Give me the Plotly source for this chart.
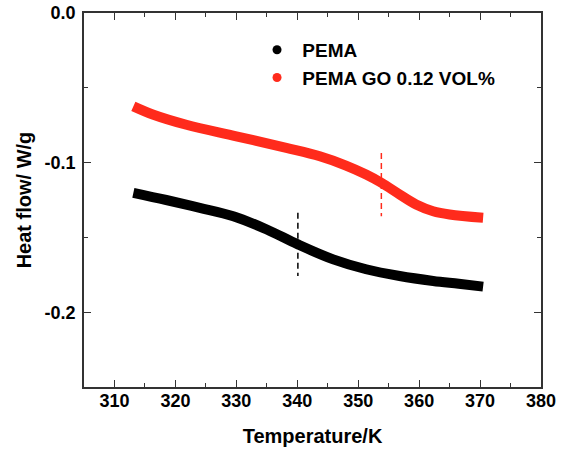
import plotly.graph_objects as go

temp_pema = [313.1, 318.5, 324.0, 329.5, 335.0, 340.1, 345.9, 351.3, 356.8, 362.3, 366.5, 370.5]
hf_pema = [-0.1202, -0.1250, -0.1302, -0.1358, -0.1447, -0.1547, -0.1647, -0.1713, -0.1758, -0.1791,
           -0.1810, -0.1829]

temp_go = [313.1, 316.4, 321.8, 330.0, 338.2, 343.7, 348.0, 351.3, 353.8, 356.8, 359.5, 362.3, 365.0, 370.5]
hf_go = [-0.0624, -0.0680, -0.0747, -0.0824, -0.0902, -0.0958, -0.1020, -0.1080, -0.1135, -0.1213,
         -0.1280, -0.1325, -0.1347, -0.1369]

tg_pema_x = [340.1, 340.1]
tg_pema_y = [-0.1336, -0.1758]
tg_go_x = [353.8, 353.8]
tg_go_y = [-0.0936, -0.1358]

names = ["PEMA", "PEMA GO 0.12 VOL%"]
colors = ["#000000", "#ff2b1c"]

y_tickvals = [-0.2, -0.1, 0.0]
y_ticktext = ["-0.2", "-0.1", "0.0"]
x_tickvals = [310, 320, 330, 340, 350, 360, 370, 380]

FONT = "Liberation Sans, Arial, sans-serif"

fig = go.Figure()
fig.add_trace(go.Scatter(x=temp_pema, y=hf_pema, mode="lines", line=dict(color=colors[0], width=10, shape="spline"),
                         showlegend=False))
fig.add_trace(go.Scatter(x=temp_go, y=hf_go, mode="lines", line=dict(color=colors[1], width=10, shape="spline"),
                         showlegend=False))
fig.add_trace(go.Scatter(x=tg_pema_x, y=tg_pema_y, mode="lines", line=dict(color=colors[0], width=1.5, dash="6px,4px"),
                         showlegend=False))
fig.add_trace(go.Scatter(x=tg_go_x, y=tg_go_y, mode="lines", line=dict(color=colors[1], width=1.5, dash="6px,4px"),
                         showlegend=False))
for n, c in zip(names, colors):
    fig.add_trace(go.Scatter(x=[None], y=[None], mode="markers", name="\u00a0" + n,
                             marker=dict(color=c, size=9)))

axis_common = dict(showline=True, linecolor="#333333", linewidth=1.5, mirror="allticks", ticks="inside",
                   ticklen=7, tickwidth=1.3, tickcolor="#333333", showgrid=False, zeroline=False,
                   automargin=False, ticklabeloverflow="allow",
                   tickfont=dict(family=FONT, size=18, color="#000000"))

fig.update_xaxes(range=[305, 380], tickvals=x_tickvals, ticktext=["<b>%d</b>" % v for v in x_tickvals],
                 ticklabelstandoff=-3,
                 minor=dict(dtick=5, tick0=305, ticks="inside", ticklen=4, tickcolor="#333333", tickwidth=1.2),
                 title=dict(text="<b>Temperature/K</b>", font=dict(family=FONT, size=20, color="#000000"), standoff=19),
                 **axis_common)
fig.update_yaxes(range=[-0.25, 0.0], tickvals=y_tickvals, ticktext=["<b>" + t + "</b>" for t in y_ticktext],
                 ticklabelstandoff=3,
                 minor=dict(dtick=0.05, tick0=0, ticks="inside", ticklen=4, tickcolor="#333333", tickwidth=1.2),
                 title=dict(text="<b>Heat flow/ W/g</b>", font=dict(family=FONT, size=20, color="#000000"), standoff=8),
                 **axis_common)

fig.update_layout(
    width=566, height=450,
    margin=dict(l=84, r=25, t=13, b=63),
    paper_bgcolor="white", plot_bgcolor="white",
    legend=dict(x=0.3786, y=0.952, xanchor="left", yanchor="top", bgcolor="rgba(0,0,0,0)",
                font=dict(family=FONT, size=19, color="#000000", weight="bold"), tracegroupgap=0),
    font=dict(family=FONT),
    hovermode=False,
)

# remove the browser's default page margin so the figure fills the 566x450 window exactly
fig.write_html("out.html", config={"displayModeBar": False},
               post_script="document.body.style.margin='0';")
